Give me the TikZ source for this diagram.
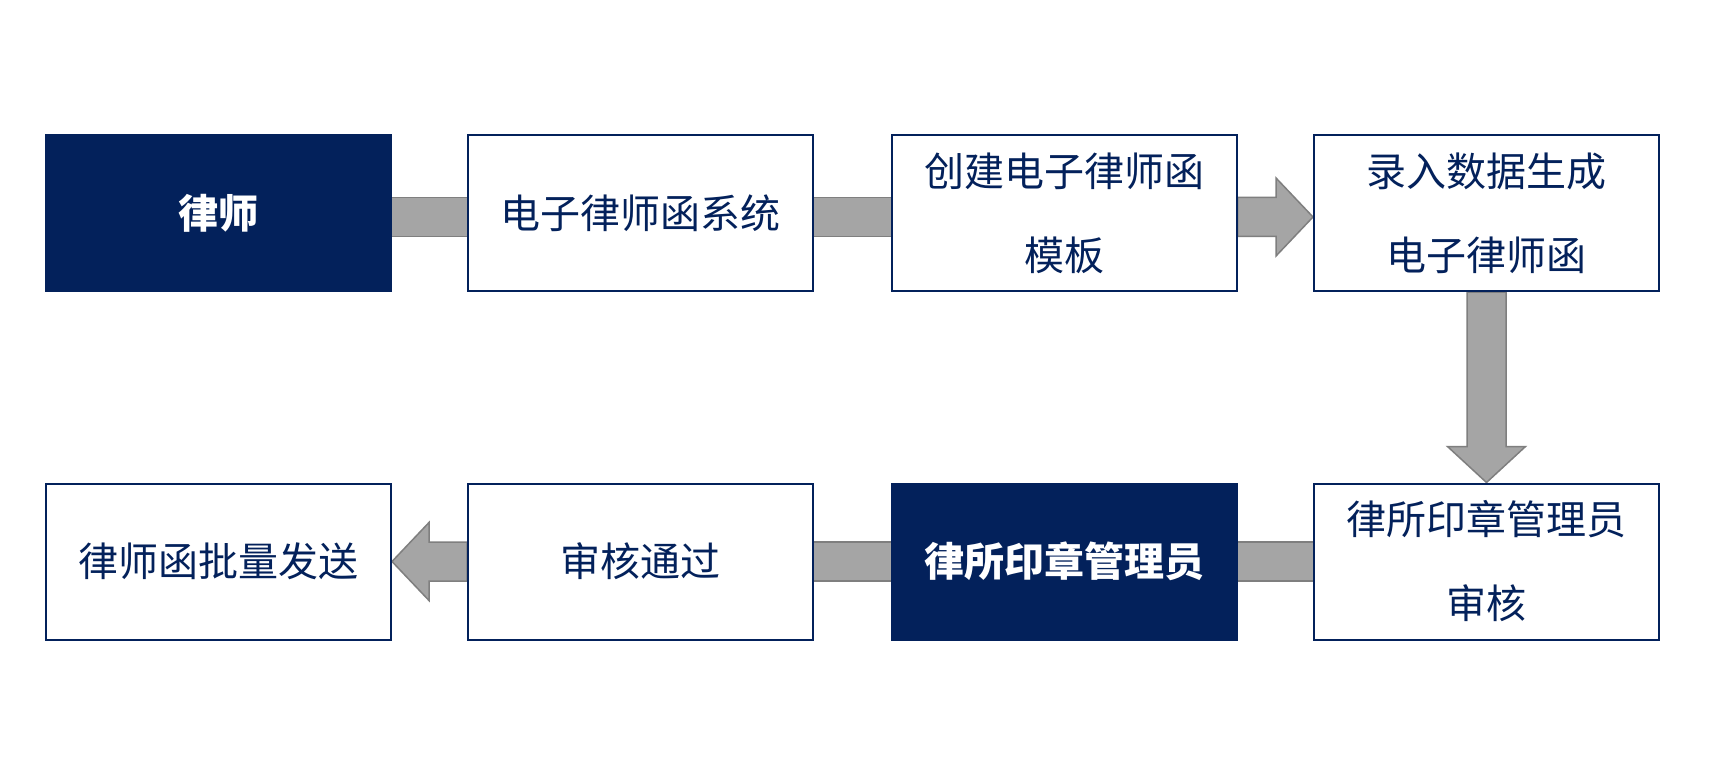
\documentclass[tikz,border=0pt]{standalone}
\usepackage{fontspec}
\setmainfont{Noto Sans CJK SC}
\usetikzlibrary{calc,backgrounds}
\definecolor{navy}{HTML}{03215B}
\definecolor{connfill}{HTML}{A5A5A5}
\definecolor{connline}{HTML}{7F7F7F}
\tikzset{
  box/.style={draw=navy, line width=2pt, fill=white, text=navy,
    minimum width=345pt, minimum height=156pt, inner sep=0pt, align=center,
    font=\fontsize{40}{84}\selectfont},
  darkbox/.style={box, fill=navy, text=white, font=\fontsize{40}{84}\selectfont\bfseries},
  connf/.style={fill=connfill},
  conne/.style={draw=connline, line width=1.5pt},
  arrowshape/.style={fill=connfill, draw=connline, line width=1.5pt, line join=miter}
}
\begin{document}
\begin{tikzpicture}[x=1pt,y=-1pt]
\useasboundingbox (0,0) rectangle (1722,770);
% row 1
\node[darkbox] (b1) at (218.5,213) {律师};
\node[box] (b2) at (640.5,213) {电子律师函系统};
\node[box] (b3) at (1064,213) {创建电子律师函\\模板};
\node[box] (b4) at (1486.5,213) {录入数据生成\\电子律师函};
% row 2
\node[box] (b5) at (1486.5,561.5) {律所印章管理员\\审核};
\node[darkbox] (b6) at (1064,561.5) {律所印章管理员};
\node[box] (b7) at (640.5,561.5) {审核通过};
\node[box] (b8) at (218.5,561.5) {律师函批量发送};
% anchor points for connectors
\coordinate (c12s) at ([yshift=-4pt]b1.east);
\coordinate (c12e) at ([yshift=-4pt]b2.west);
\coordinate (c23s) at ([yshift=-4pt]b2.east);
\coordinate (c23e) at ([yshift=-4pt]b3.west);
\coordinate (c34s) at ([yshift=-4pt]b3.east);
\coordinate (c34e) at ([yshift=-4pt]b4.west);
\coordinate (c45s) at (b4.south);
\coordinate (c45e) at (b5.north);
\begin{scope}[on background layer]
\fill[white] (0,0) rectangle (1722,770);
% plain bars row 1
\fill[connf] ($(c12s)+(0,19.5pt)$) rectangle ($(c12e)+(0,-19.5pt)$);
\draw[conne] ($(c12s)+(0,19.5pt)$) -- ($(c12e)+(0,19.5pt)$);
\draw[conne] ($(c12s)+(0,-19.5pt)$) -- ($(c12e)+(0,-19.5pt)$);
\fill[connf] ($(c23s)+(0,19.5pt)$) rectangle ($(c23e)+(0,-19.5pt)$);
\draw[conne] ($(c23s)+(0,19.5pt)$) -- ($(c23e)+(0,19.5pt)$);
\draw[conne] ($(c23s)+(0,-19.5pt)$) -- ($(c23e)+(0,-19.5pt)$);
% arrow b3 -> b4
\draw[arrowshape] ($(c34s)+(0,19.5pt)$) -- ($(c34e)+(-37pt,19.5pt)$) -- ($(c34e)+(-37pt,39pt)$)
  -- (c34e) -- ($(c34e)+(-37pt,-39pt)$) -- ($(c34e)+(-37pt,-19.5pt)$) -- ($(c34s)+(0,-19.5pt)$) -- cycle;
% arrow b4 -> b5 (down)
\draw[arrowshape] ($(c45s)+(-19.5pt,0)$) -- ($(c45e)+(-19.5pt,36pt)$) -- ($(c45e)+(-39pt,36pt)$)
  -- (c45e) -- ($(c45e)+(39pt,36pt)$) -- ($(c45e)+(19.5pt,36pt)$) -- ($(c45s)+(19.5pt,0)$) -- cycle;
% plain bars row 2
\fill[connf] ($(b5.west)+(0,19.5pt)$) rectangle ($(b6.east)+(0,-19.5pt)$);
\draw[conne] ($(b5.west)+(0,19.5pt)$) -- ($(b6.east)+(0,19.5pt)$);
\draw[conne] ($(b5.west)+(0,-19.5pt)$) -- ($(b6.east)+(0,-19.5pt)$);
\fill[connf] ($(b6.west)+(0,19.5pt)$) rectangle ($(b7.east)+(0,-19.5pt)$);
\draw[conne] ($(b6.west)+(0,19.5pt)$) -- ($(b7.east)+(0,19.5pt)$);
\draw[conne] ($(b6.west)+(0,-19.5pt)$) -- ($(b7.east)+(0,-19.5pt)$);
% arrow b7 -> b8 (left)
\draw[arrowshape] ($(b7.west)+(0,19.5pt)$) -- ($(b8.east)+(37pt,19.5pt)$) -- ($(b8.east)+(37pt,39pt)$)
  -- (b8.east) -- ($(b8.east)+(37pt,-39pt)$) -- ($(b8.east)+(37pt,-19.5pt)$) -- ($(b7.west)+(0,-19.5pt)$) -- cycle;
\end{scope}
\end{tikzpicture}
\end{document}
